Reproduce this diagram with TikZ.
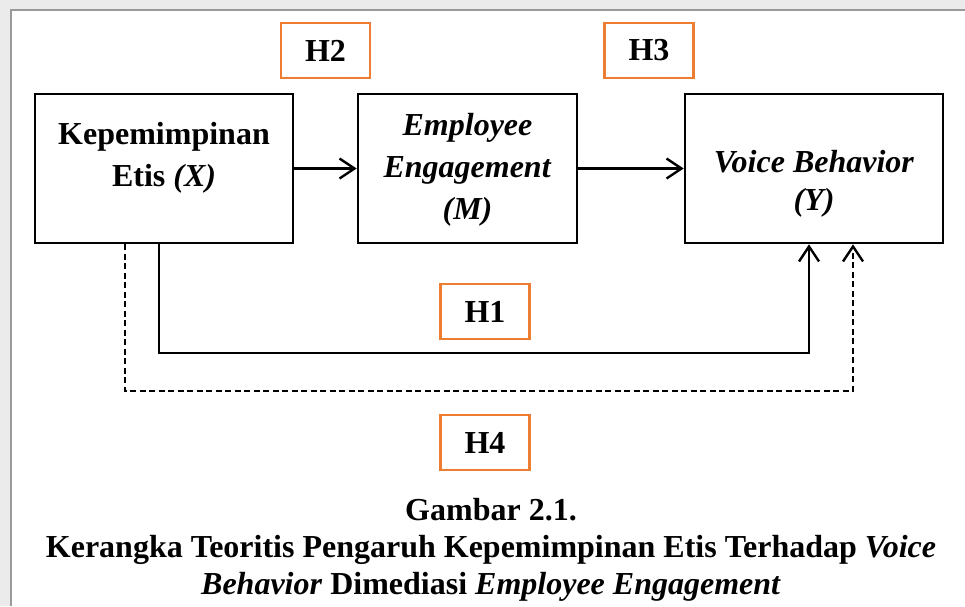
\documentclass[tikz,border=0pt]{standalone}
\usepackage{fontspec}
\setmainfont{Liberation Serif}
\usetikzlibrary{arrows.meta}
\definecolor{hypOrange}{HTML}{ED7D31}
\definecolor{frameGray}{HTML}{9A9A9A}
\begin{document}
\begin{tikzpicture}[x=1pt, y=-1pt,
  varbox/.style={draw, line width=2.6pt, minimum height=149pt, inner sep=0pt},
  vartext/.style={align=center, inner sep=0pt, font=\bfseries\fontsize{32}{42}\selectfont},
  hypbox/.style={draw=hypOrange, line width=2.4pt, minimum width=89pt, minimum height=55pt, inner sep=0pt, font=\bfseries\fontsize{32}{38}\selectfont},
  link/.style={line width=2.4pt, -{Straight Barb[length=15pt, width=20pt, line width=2.4pt]}}]
\useasboundingbox (0,0) rectangle (965,606);
\fill[frameGray!20] (0,0) rectangle (965,10) (0,0) rectangle (11,606);
\draw[frameGray, line width=2pt] (965,10) -- (11,10) -- (11,606);
\node[varbox, minimum width=258pt] (X) at (164,168.5){};
\node[vartext] (Xt) at (164,158){Kepemimpinan\\Etis \textit{(X)}};
\node[varbox, minimum width=219pt] (M) at (467.5,168.5){};
\node[vartext] (Mt) at (467.5,169.5){\textit{Employee}\\\textit{Engagement}\\\textit{(M)}};
\node[varbox, minimum width=258pt] (Y) at (814,168.5){};
\node[vartext, font=\bfseries\fontsize{32}{38}\selectfont] (Yt) at (814,183.5){\textit{Voice Behavior}\\\textit{(Y)}};
\node[hypbox] (h2) at (325.5,50.5){H2};
\node[hypbox] (h3) at (649,50.5){H3};
\node[hypbox] (h1) at (485,311.5){H1};
\node[hypbox] (h4) at (485,442.5){H4};
\coordinate (s1) at (159,353);
\coordinate (s2) at (809,353);
\coordinate (d1) at (125,391);
\coordinate (d2) at (853,391);
\draw[link](X) -- (M);
\draw[link](M) -- (Y);
\draw[link](X.south -| s1) -- (s1) -- (s2) -- (Y.south -| s2);
\draw[link, dash pattern=on 6pt off 3.5pt](X.south -| d1) -- (d1) -- (d2) -- (Y.south -| d2);
\node[align=center, inner sep=0pt, font=\bfseries\fontsize{32}{37}\selectfont] (cap) at (491,549.5){Gambar 2.1.\\Kerangka Teoritis Pengaruh Kepemimpinan Etis Terhadap \textit{Voice}\\\textit{Behavior} Dimediasi \textit{Employee Engagement}};
\end{tikzpicture}
\end{document}
